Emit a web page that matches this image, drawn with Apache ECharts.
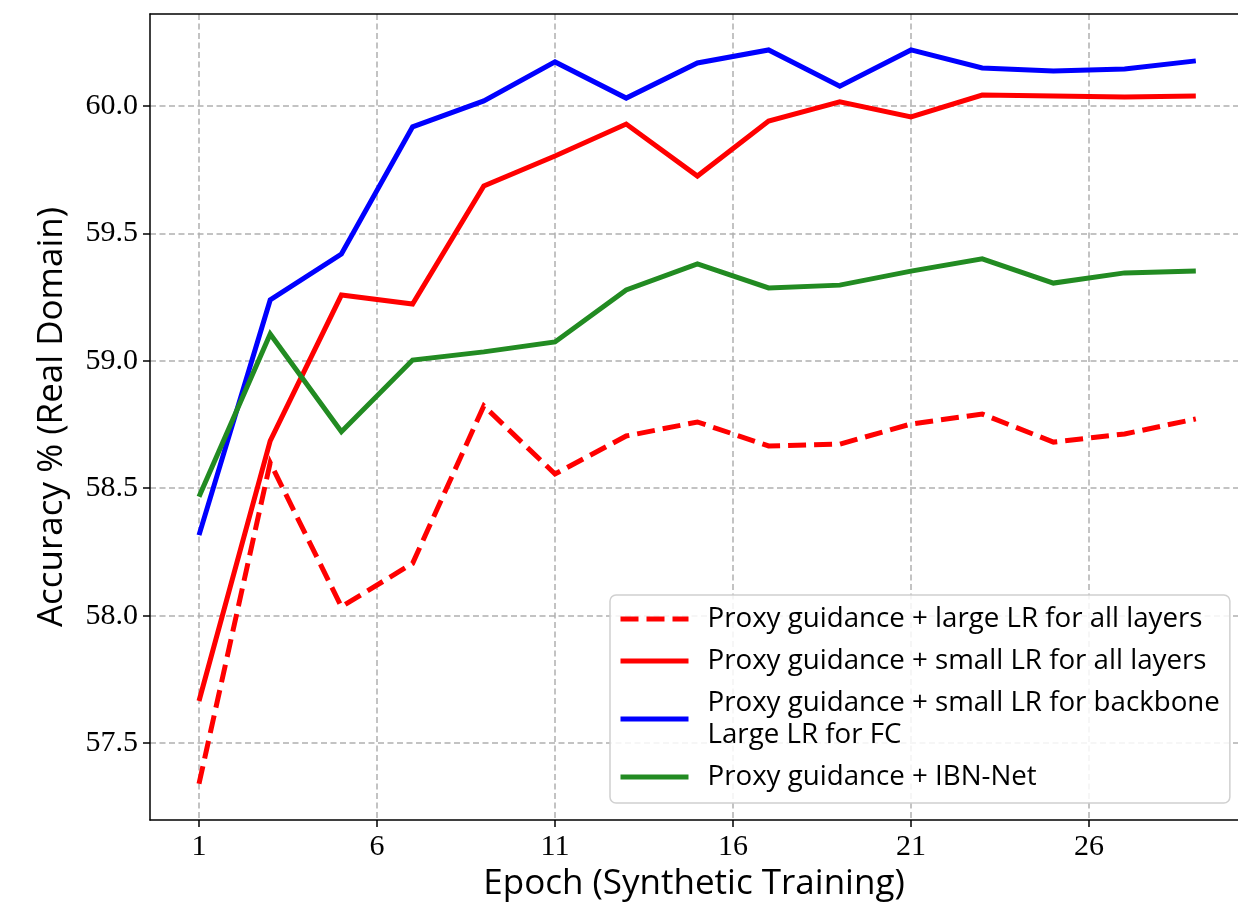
<!DOCTYPE html>
<html>
<head>
<meta charset="utf-8">
<script src="https://cdn.jsdelivr.net/npm/echarts@6/dist/echarts.min.js"></script>
<style>
  html, body { margin: 0; padding: 0; background: #fff; }
  #chart { width: 1238px; height: 909px; }
</style>
</head>
<body>
<div id="chart"></div>
<script>
// Accuracy on the real domain after each synthetic-training epoch
const epochs = [1, 3, 5, 7, 9, 11, 13, 15, 17, 19, 21, 23, 25, 27, 29];
const largeLrAll = [57.340, 58.600, 58.035, 58.205, 58.823, 58.556, 58.705, 58.760, 58.666, 58.673, 58.752, 58.791, 58.681, 58.713, 58.772];
const smallLrAll = [57.665, 58.686, 59.258, 59.223, 59.686, 59.804, 59.929, 59.725, 59.941, 60.016, 59.957, 60.043, 60.039, 60.035, 60.039];
const smallLrBackbone = [58.316, 59.239, 59.419, 59.918, 60.020, 60.173, 60.031, 60.169, 60.220, 60.078, 60.220, 60.149, 60.137, 60.145, 60.177];
const ibnNet = [58.467, 59.105, 58.722, 59.003, 59.035, 59.074, 59.278, 59.380, 59.286, 59.297, 59.352, 59.400, 59.305, 59.345, 59.352];

const xTicks = [1, 6, 11, 16, 21, 26];
const yTicks = [57.5, 58.0, 58.5, 59.0, 59.5, 60.0];

const seriesNames = [
  'Proxy guidance + large LR for all layers',
  'Proxy guidance + small LR for all layers',
  'Proxy guidance + small LR for backbone\nLarge LR for FC',
  'Proxy guidance + IBN-Net'
];

const pair = (ys) => epochs.map((e, i) => [e, ys[i]]);

const serifFont = '"Liberation Serif", "DejaVu Serif", serif';
const sansFont = '"Open Sans", "Noto Sans", sans-serif';

const gridLine = { show: true, lineStyle: { color: '#b0b0b0', width: 1.5, type: [6, 3.5] } };
const frame = { show: true, onZero: false, lineStyle: { color: '#000', width: 1.5 } };

const chart = echarts.init(document.getElementById('chart'), null, { renderer: 'canvas' });

function line(name, ys, color, dashed) {
  return {
    name: name,
    type: 'line',
    data: pair(ys),
    symbol: 'none',
    z: 3,
    lineStyle: { color: color, width: 5, type: dashed ? [18, 8] : 'solid', cap: 'butt', join: 'miter' },
    itemStyle: { color: color },
    emphasis: { disabled: true },
    animation: false
  };
}

chart.setOption({
  animation: false,
  grid: { left: 150, right: 0, top: 14, bottom: 89 },
  xAxis: [{
    type: 'value',
    min: -0.3764,
    max: 30.185,
    name: 'Epoch (Synthetic Training)',
    nameLocation: 'middle',
    nameGap: 44,
    nameTextStyle: { fontFamily: sansFont, fontSize: 35, color: '#000', verticalAlign: 'top' },
    axisLine: frame,
    axisTick: { show: true, customValues: xTicks, length: 7, lineStyle: { color: '#000', width: 1.5 } },
    axisLabel: { customValues: xTicks, fontFamily: serifFont, fontSize: 30, color: '#000', margin: 12 },
    splitLine: gridLine
  }, {
    type: 'value',
    position: 'top',
    min: -0.3764,
    max: 30.185,
    axisLine: frame,
    axisTick: { show: false },
    axisLabel: { show: false },
    splitLine: { show: false }
  }],
  yAxis: {
    type: 'value',
    min: 57.198,
    max: 60.361,
    name: 'Accuracy % (Real Domain)',
    nameLocation: 'middle',
    nameGap: 80,
    nameTextStyle: { fontFamily: sansFont, fontSize: 35, color: '#000' },
    axisLine: frame,
    axisTick: { show: true, customValues: yTicks, length: 7, lineStyle: { color: '#000', width: 1.5 } },
    axisLabel: {
      customValues: yTicks,
      fontFamily: serifFont, fontSize: 30, color: '#000', margin: 12,
      formatter: (v) => v.toFixed(1)
    },
    splitLine: gridLine
  },
  legend: {
    orient: 'vertical',
    left: 610,
    top: 595,
    padding: [8, 10, 10, 8],
    itemGap: 10,
    itemWidth: 68,
    itemHeight: 14,
    backgroundColor: 'rgba(255,255,255,0.85)',
    borderColor: '#d0d0d0',
    borderWidth: 1.5,
    borderRadius: 6,
    selectedMode: false,
    data: seriesNames,
    itemStyle: { opacity: 0 },
    lineStyle: { width: 5, cap: 'butt' },
    textStyle: { fontFamily: sansFont, fontSize: 27.7, lineHeight: 32, color: '#000', padding: [0, 0, 0, 14] }
  },
  series: [
    line(seriesNames[0], largeLrAll, '#ff0000', true),
    line(seriesNames[1], smallLrAll, '#ff0000', false),
    line(seriesNames[2], smallLrBackbone, '#0000ff', false),
    line(seriesNames[3], ibnNet, '#228b22', false)
  ]
});
</script>
</body>
</html>
